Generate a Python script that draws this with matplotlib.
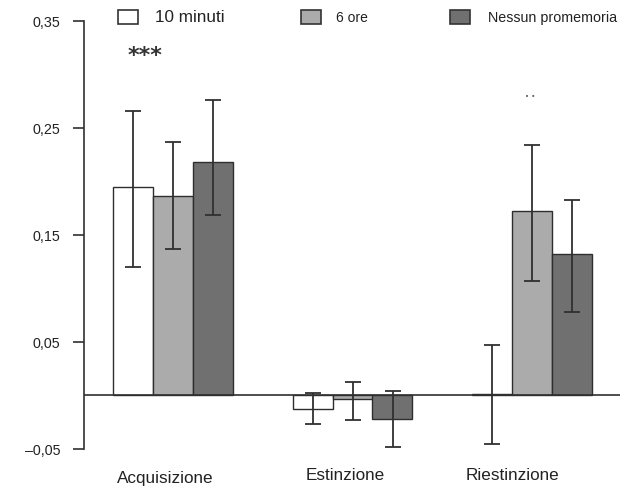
import matplotlib
matplotlib.use("Agg")
import matplotlib.pyplot as plt
from matplotlib.patches import Rectangle
import numpy as np

plt.rcParams['font.family'] = ['Liberation Sans', 'DejaVu Sans']

categories = ["Acquisizione", "Estinzione", "Riestinzione"]
series_names = ["10 minuti", "6 ore", "Nessun promemoria"]
means = {
    "10 minuti": [0.194, -0.013, 0.001],
    "6 ore": [0.186, -0.004, 0.172],
    "Nessun promemoria": [0.218, -0.022, 0.132],
}
err_low = {
    "10 minuti": [0.120, -0.027, -0.046],
    "6 ore": [0.136, -0.023, 0.107],
    "Nessun promemoria": [0.168, -0.049, 0.078],
}
err_high = {
    "10 minuti": [0.265, 0.002, 0.047],
    "6 ore": [0.236, 0.012, 0.234],
    "Nessun promemoria": [0.276, 0.004, 0.182],
}
yticks = [-0.05, 0.05, 0.15, 0.25, 0.35]
ytick_labels = ["\u20130,05", "0,05", "0,15", "0,25", "0,35"]
annotations = [("***", 0, 0.318), ("\u2022 \u2022", 2, 0.279)]

colors = ["#ffffff", "#ababab", "#707070"]
edge = "#2e2e2e"
W, H = 623, 489
fig = plt.figure(figsize=(W / 100, H / 100), dpi=100)

# axes pixel layout
ax_left, ax_right = 84, 620
ax_top, ax_bottom = 5, 468
ax = fig.add_axes([ax_left / W, 1 - ax_bottom / H, (ax_right - ax_left) / W, (ax_bottom - ax_top) / H])
# y mapping: pixel = 396 - v*1070
ax.set_ylim((396 - ax_bottom) / 1070, (396 - ax_top) / 1070)
ax.set_xlim((84 - 173) / 179.5, (620 - 173) / 179.5)

bw = 40 / 179.5
x = np.arange(len(categories))
for i, name in enumerate(series_names):
    pos = x + (i - 1) * bw
    m = np.array(means[name])
    lo = m - np.array(err_low[name])
    hi = np.array(err_high[name]) - m
    ax.bar(pos, m, width=bw, color=colors[i], edgecolor=edge, linewidth=1.0, zorder=2)
    ax.errorbar(pos, m, yerr=[lo, hi], fmt='none', ecolor="#303030", elinewidth=1.3,
                capsize=5.5, capthick=1.3, zorder=3)

ax.axhline(0, color="#303030", linewidth=1.2, zorder=4)

for s in ["top", "right", "bottom"]:
    ax.spines[s].set_visible(False)
ax.spines["left"].set_bounds(-0.05, 0.35)
ax.spines["left"].set_color("#303030")
ax.spines["left"].set_linewidth(1.2)
ax.set_yticks(yticks)
ax.set_yticklabels(ytick_labels, fontsize=10.3, color="#222222")
ax.tick_params(axis='y', direction='out', length=8, width=1.2, color="#303030", pad=9)

ax.set_xticks([])
label_offsets = [-0.045, -0.043, -0.11]
label_y = [478, 476, 476]
for i, c in enumerate(categories):
    ax.text(x[i] + label_offsets[i], (396 - label_y[i]) / 1070, c, ha='center', va='center',
            fontsize=12.3, color="#222222")

for txt, gi, yv in annotations:
    if txt == "***":
        ax.text(gi - 0.156, yv, txt, ha='center', va='center', fontsize=16, fontweight='bold',
                family='DejaVu Sans', color="#333333")
    else:
        ax.text(gi - 0.01, yv, txt, ha='center', va='center', fontsize=5,
                family='DejaVu Sans', color="#555555")

# legend
leg_items = [(128, 155, 12.3), (311, 336, 10.0), (460, 488, 10.3)]
for (sx, tx, fs), name, col in zip(leg_items, series_names, colors):
    fig.patches.append(Rectangle(((sx - 10) / W, 1 - 25 / H), 20 / W, 14 / H,
                                 transform=fig.transFigure, facecolor=col,
                                 edgecolor="#333333", linewidth=1.2))
    fig.text(tx / W, 1 - 18 / H, name, ha='left', va='center', fontsize=fs, color="#222222")

fig.savefig("out.png", dpi=100)
